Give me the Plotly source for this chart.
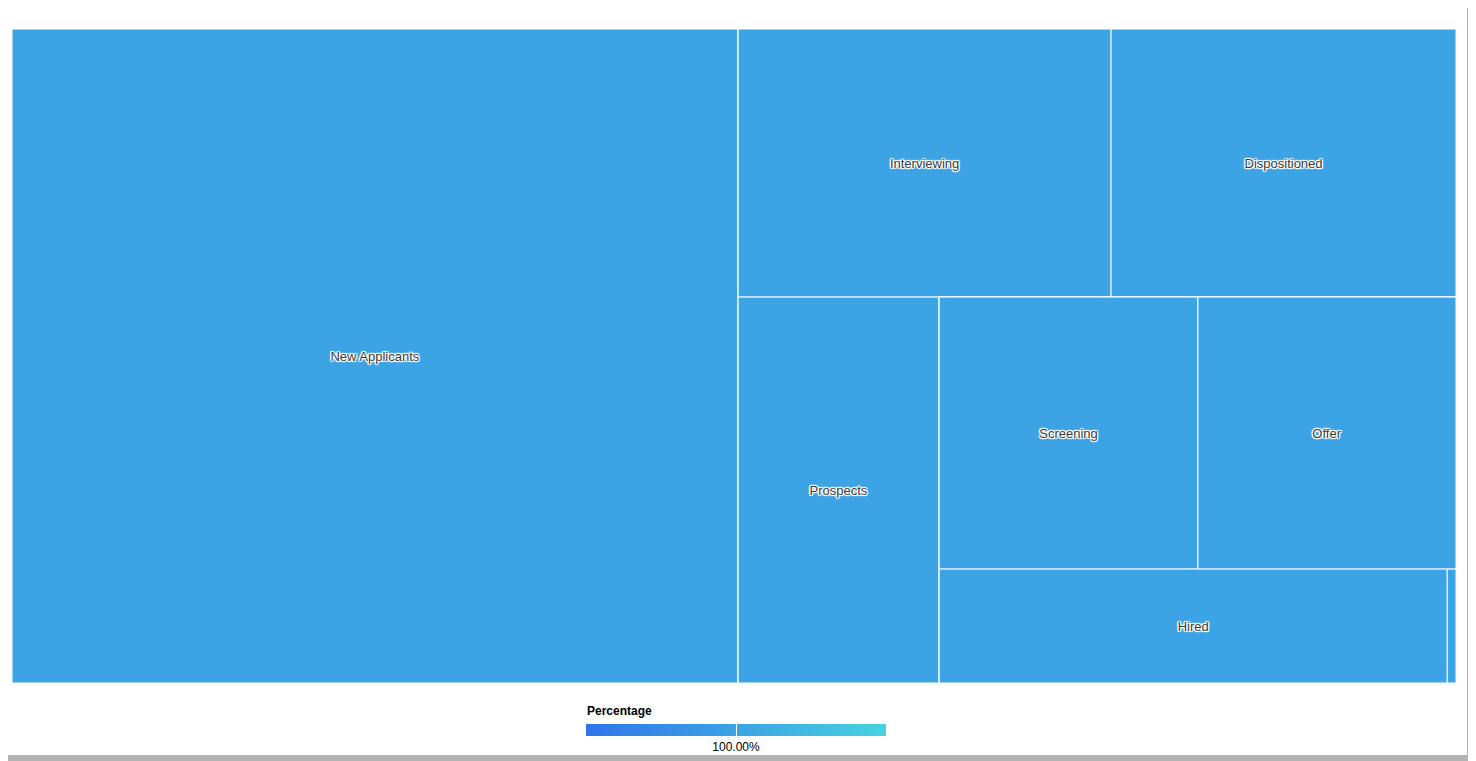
import plotly.graph_objects as go

# Hierarchy (group nodes only structure the layout; leaves carry the values)
ids = ["New Applicants", "G1", "G_top", "Interviewing", "Dispositioned",
       "G_bottom", "Prospects", "G2", "G_row", "Screening", "Offer",
       "G_hired", "Hired", "Other"]
parents = ["", "", "G1", "G_top", "G_top",
           "G1", "G_bottom", "G_bottom", "G2", "G_row", "G_row",
           "G2", "G_hired", "G_hired"]
labels = ["New Applicants", "", "", "Interviewing", "Dispositioned",
          "", "Prospects", "", "", "Screening", "Offer",
          "", "Hired", ""]
values = [475, 0, 0, 100, 92.5,
          0, 77.6, 0, 0, 70.4, 70.2,
          0, 57.9, 1.0]
percentage = [100.0] * len(ids)
tick_values = [100.0]
tick_labels = [f"{v:.2f}%" for v in tick_values]

W, H = 1468, 753
ML, MR, MT, MB = 4, 20, 21, 78
PW, PH = W - ML - MR, H - MT - MB


def px_x(x):
    return (x - ML) / PW


def px_y(y):
    return (H - MB - y) / PH


FONT = "Liberation Sans, Arial, Helvetica, sans-serif"
halo = ", ".join(f"{dx}px {dy}px 1px #fff" for dx, dy in
                 [(1, 0), (-1, 0), (0, 1), (0, -1), (1, 1), (-1, -1), (1, -1), (-1, 1)])

fig = go.Figure(go.Treemap(
    ids=ids,
    parents=parents,
    labels=labels,
    values=values,
    text=labels,
    branchvalues="remainder",
    sort=False,
    textinfo="text",
    textposition="middle center",
    tiling=dict(packing="slice-dice", pad=0),
    pathbar=dict(visible=False),
    hoverinfo="skip",
    textfont=dict(family=FONT, size=13, color="#3a3a3a", shadow=halo),
    marker=dict(
        colors=percentage,
        colorscale=[[0, "#2f74ea"], [1, "#48d2de"]],
        cmin=0, cmax=200,
        pad=dict(t=0, l=0, r=0, b=0),
        line=dict(color="#ffffff", width=1),
        showscale=True,
        colorbar=dict(
            orientation="h",
            lenmode="pixels", len=300,
            thicknessmode="pixels", thickness=12,
            x=px_x(578), xanchor="left",
            y=px_y(716), yanchor="top",
            ypad=0, xpad=0,
            outlinewidth=0,
            tickvals=tick_values,
            ticktext=tick_labels,
            ticks="inside", ticklen=12, tickcolor="#ffffff", tickwidth=1,
            tickfont=dict(family=FONT, size=12, color="#000"),
        ),
    ),
))

fig.update_layout(
    width=W, height=H,
    paper_bgcolor="#b3b3b3",
    margin=dict(l=ML, r=MR, t=MT, b=MB, autoexpand=False),
    showlegend=False,
    shapes=[dict(type="rect", xref="paper", yref="paper", layer="below",
                 x0=px_x(-5), x1=px_x(1459),
                 y0=px_y(747), y1=px_y(-5),
                 fillcolor="#ffffff", line=dict(width=0))],
    annotations=[dict(text="<b>Percentage</b>", xref="paper", yref="paper",
                      x=px_x(577), y=px_y(703), xanchor="left", yanchor="middle",
                      showarrow=False, font=dict(family=FONT, size=12, color="#000"))],
)

fig.write_html("out.html")
